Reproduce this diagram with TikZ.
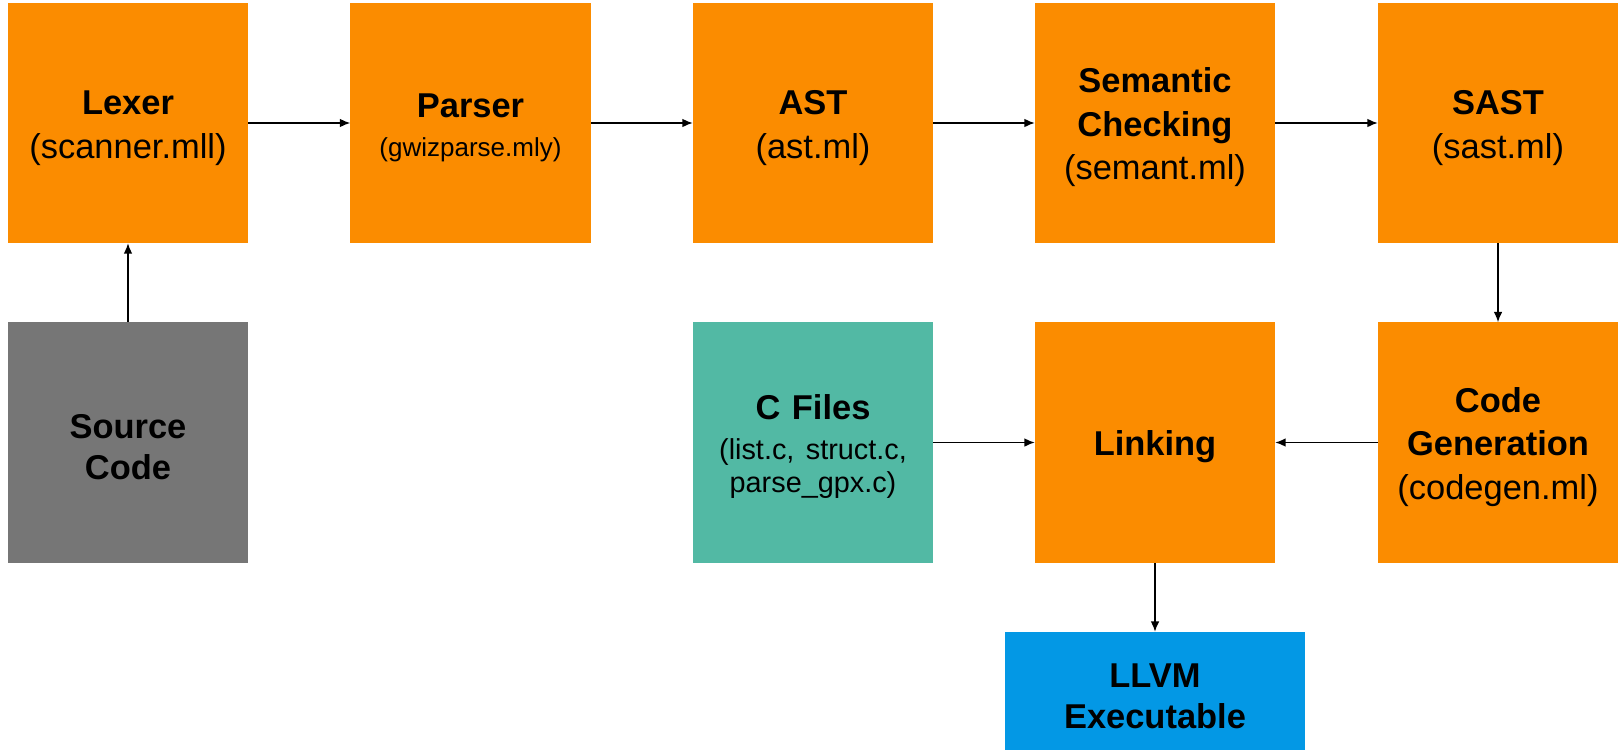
\documentclass[tikz,border=0pt]{standalone}
\usepackage{fontspec}
\setmainfont{Liberation Sans}
\frenchspacing
\usetikzlibrary{arrows.meta}
\definecolor{stagefill}{HTML}{FB8C00}
\definecolor{srcfill}{HTML}{767676}
\definecolor{cfill}{HTML}{52B9A4}
\definecolor{outfill}{HTML}{0398E5}
\tikzset{
  box/.style={minimum width=6cm, minimum height=6cm, inner sep=0pt,
              align=center, text width=5.6cm,
              font=\fontsize{24.5}{31}\selectfont,
              execute at begin node={\rule{0pt}{24pt}}},
  stage/.style={box, fill=stagefill},
  srcbox/.style={box, fill=srcfill, font=\fontsize{24.5}{29}\selectfont},
  cbox/.style={box, fill=cfill, font=\fontsize{24.5}{24}\selectfont},
  outbox/.style={box, fill=outfill, minimum width=7.5cm, minimum height=2.95cm,
                 font=\fontsize{24.5}{29}\selectfont},
  flow/.style={-{Latex[length=2.6mm, width=2.2mm]}, line width=1.1pt},
}
\newcommand{\subsz}{\fontsize{18.5}{28}\selectfont}
\newcommand{\cfsz}{\fontsize{20.5}{24}\selectfont}

\begin{document}
\begin{tikzpicture}[x=0.025cm, y=-0.025cm]
    \useasboundingbox (0,0) rectangle (1619,750);
    % top row
    \node[stage] (lexer) at (128, 123) {\textbf{Lexer}\\(scanner.mll)};
    \node[stage, font=\fontsize{24.5}{28}\selectfont] (parser) at (470.5, 123) {\textbf{Parser}\\{\subsz (gwizparse.mly)}};
    \node[stage] (ast) at (813, 123) {\textbf{AST}\\(ast.ml)};
    \node[stage] (semant) at (1155, 123) {\textbf{Semantic}\\\textbf{Checking}\\(semant.ml)};
    \node[stage] (sast) at (1498, 123) {\textbf{SAST}\\(sast.ml)};
    % bottom row
    \node[srcbox] (source) at (128, 442.5) {\textbf{Source}\\\textbf{Code}};
    \node[cbox] (cfiles) at (813, 442.5) {\textbf{C Files}\\[4pt]{\cfsz (list.c, struct.c,\\parse\_gpx.c)}};
    \node[stage] (linking) at (1155, 442.5) {\textbf{Linking}};
    \node[stage] (codegen) at (1498, 442.5) {\textbf{Code}\\\textbf{Generation}\\(codegen.ml)};
    \node[outbox] (llvm) at (1155, 691) {\textbf{LLVM}\\\textbf{Executable}};
    % arrows
    \draw[flow] (source) -- (lexer);
    \draw[flow] (lexer) -- (parser);
    \draw[flow] (parser) -- (ast);
    \draw[flow] (ast) -- (semant);
    \draw[flow] (semant) -- (sast);
    \draw[flow] (sast) -- (codegen);
    \draw[flow] (codegen) -- (linking);
    \draw[flow] (cfiles) -- (linking);
    \draw[flow] (linking) -- (llvm);
  \end{tikzpicture}
\end{document}
